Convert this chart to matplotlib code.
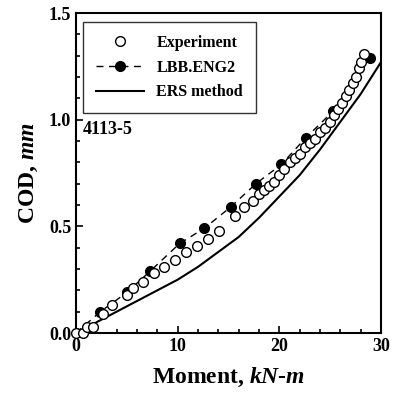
import matplotlib
matplotlib.use("Agg")
import matplotlib.pyplot as plt
from matplotlib.ticker import MultipleLocator

plt.rcParams['font.family'] = ['Liberation Serif', 'DejaVu Serif']
plt.rcParams['font.weight'] = 'bold'
plt.rcParams['mathtext.fontset'] = 'custom'
plt.rcParams['mathtext.it'] = 'Liberation Serif:italic:bold'
plt.rcParams['mathtext.rm'] = 'Liberation Serif:bold'

# experiment (open circles)
exp_moment = [0, 0.7, 1.1, 1.7, 2.7, 3.5, 5.0, 5.6, 6.6, 7.7, 8.7, 9.7, 10.8,
              11.9, 13.0, 14.1, 15.6, 16.5, 17.4, 18.0, 18.5, 19.0, 19.5, 20.0,
              20.5, 21.0, 21.5, 22.0, 22.5, 23.0, 23.5, 24.0, 24.5, 25.0, 25.4,
              25.8, 26.2, 26.6, 26.9, 27.2, 27.5, 27.8, 28.0, 28.3]
exp_cod = [0, 0, 0.03, 0.03, 0.09, 0.13, 0.18, 0.21, 0.24, 0.28, 0.31, 0.34,
           0.38, 0.41, 0.44, 0.48, 0.55, 0.59, 0.62, 0.65, 0.67, 0.69, 0.71,
           0.74, 0.77, 0.80, 0.82, 0.84, 0.87, 0.89, 0.91, 0.94, 0.96, 0.99,
           1.02, 1.05, 1.08, 1.11, 1.14, 1.17, 1.20, 1.24, 1.27, 1.31]

# LBB.ENG2 (filled circles, dashed)
lbb_moment = [0, 2.4, 5.0, 7.3, 10.2, 12.6, 15.2, 17.7, 20.2, 22.6, 25.3, 28.9]
lbb_cod = [0, 0.10, 0.19, 0.29, 0.42, 0.49, 0.59, 0.70, 0.79, 0.915, 1.04, 1.29]

# ERS method (solid)
ers_moment = [1.0, 2, 4, 6, 8, 10, 12, 14, 16, 18, 20, 22, 24, 26, 28, 30]
ers_cod = [0.01, 0.05, 0.10, 0.15, 0.20, 0.25, 0.31, 0.38, 0.45, 0.54, 0.64,
           0.74, 0.86, 0.99, 1.12, 1.27]

fig = plt.figure(figsize=(3.97, 3.99), dpi=100)
ax = fig.add_axes([76 / 397, 1 - 333 / 399, 305 / 397, 320 / 399])

ax.plot(ers_moment, ers_cod, '-', color='black', lw=1.5, label='ERS method')
ax.plot(lbb_moment, lbb_cod, '--', color='black', lw=1.0, marker='o',
        ms=7, mfc='black', mec='black', dashes=(5, 4), label='LBB.ENG2')
ax.plot(exp_moment, exp_cod, 'o', ms=7, mfc='white', mec='black', mew=1.0,
        label='Experiment', clip_on=False, zorder=3)

ax.set_xlim(0, 30)
ax.set_ylim(0, 1.5)
ax.xaxis.set_major_locator(MultipleLocator(10))
ax.xaxis.set_minor_locator(MultipleLocator(2))
ax.yaxis.set_major_locator(MultipleLocator(0.5))
ax.yaxis.set_minor_locator(MultipleLocator(0.1))
ax.yaxis.set_major_formatter(plt.FormatStrFormatter('%.1f'))
ax.tick_params(which='both', direction='in', labelsize=13, width=1.2)
ax.tick_params(which='major', length=5)
ax.tick_params(which='minor', length=3)
for s in ax.spines.values():
    s.set_linewidth(1.5)

ax.set_xlabel(r'Moment, $kN$-$m$', fontsize=17, fontweight='bold', labelpad=8)
ax.set_ylabel(r'COD, $mm$', fontsize=17, fontweight='bold', labelpad=6)

ax.text(0.7, 0.995, '4113-5', fontsize=13, fontweight='bold', va='top')

h, l = ax.get_legend_handles_labels()
leg = ax.legend(h[::-1], l[::-1], loc='upper left', bbox_to_anchor=(0.023, 0.972),
                fontsize=11.5, frameon=True, fancybox=False, edgecolor='black',
                handlelength=3.0, borderpad=0.8, labelspacing=0.55,
                borderaxespad=0)
leg.get_frame().set_linewidth(1.0)

fig.savefig('out.png', dpi=100)
